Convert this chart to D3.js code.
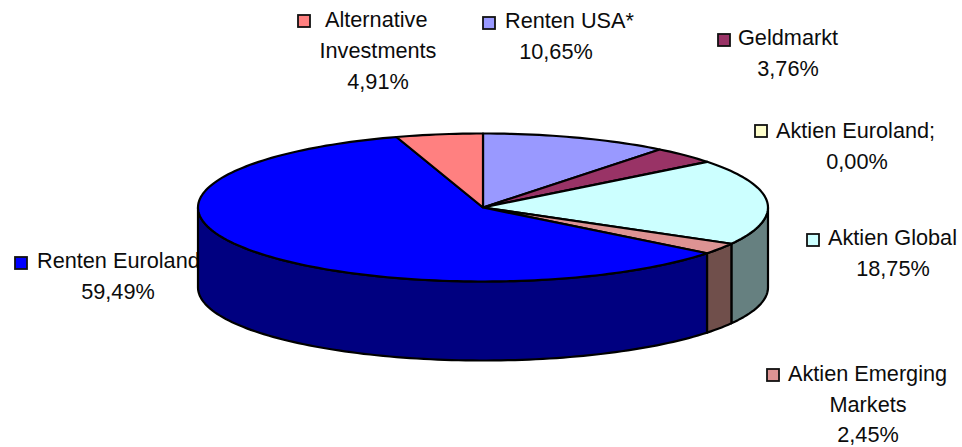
<!DOCTYPE html>
<html>
<head>
<meta charset="utf-8">
<script src="https://cdnjs.cloudflare.com/ajax/libs/d3/7.8.5/d3.min.js"></script>
<style>
html,body{margin:0;padding:0;background:#fff}
svg{display:block}
text{font-family:"Liberation Sans",Arial,sans-serif;font-size:21.7px;fill:#0c0c0c}
</style>
</head>
<body>
<svg id="chart" width="962" height="447"></svg>
<script>
// Portfolio shares, clockwise from twelve o'clock
const categories = ["Renten USA*", "Geldmarkt", "Aktien Euroland;", "Aktien Global", "Aktien Emerging Markets", "Renten Euroland", "Alternative Investments"];
const values = [10.65, 3.76, 0.00, 18.75, 2.45, 59.49, 4.91];
const valueLabels = ["10,65%", "3,76%", "0,00%", "18,75%", "2,45%", "59,49%", "4,91%"];
const topColors = ["#9999ff", "#993366", "#ffffcc", "#ccffff", "#dd9393", "#0000ff", "#ff8080"];
const sideColors = ["#4d4d80", "#4d1a33", "#808066", "#668080", "#704f4b", "#000080", "#804040"];

// Wrapped label text, one entry per line
const labelLines = [["Renten USA*"], ["Geldmarkt"], ["Aktien Euroland;"], ["Aktien Global"], ["Aktien Emerging", "Markets"], ["Renten Euroland"], ["Alternative", "Investments"]];
// Label block layout: swatch left/top, first-line start x and baseline, centre of later lines, line spacing
const swatchX = [482, 717, 754, 806, 766, 14, 297];
const swatchY = [16, 33, 124, 233, 368, 256, 14];
const textX = [505, 738, 776, 828, 788, 37, 325];
const baseY = [28, 45, 138, 245, 381, 268, 27];
const centreX = [556, 788, 857, 893, 868, 118, 378];
const lineSteps = [31, 31, 31, 31, 30.5, 31, 31];

const cx = 483, cy = 207.5, rx = 285, ry = 74, ryBase = 73, depth = 80;
const svg = d3.select("#chart");

// Labels go underneath so the pie body overlaps the long left label
const labels = svg.append("g");
categories.forEach((c, i) => {
  const g = labels.append("g");
  g.append("rect")
    .attr("x", swatchX[i] + 1).attr("y", swatchY[i] + 1)
    .attr("width", 12).attr("height", 12)
    .attr("fill", topColors[i]).attr("stroke", "#111").attr("stroke-width", 1.8);
  labelLines[i].forEach((line, k) => {
    g.append("text")
      .attr("x", k === 0 ? textX[i] : centreX[i])
      .attr("y", baseY[i] + k * lineSteps[i])
      .attr("text-anchor", k === 0 ? "start" : "middle")
      .text(line);
  });
  g.append("text")
    .attr("x", centreX[i])
    .attr("y", baseY[i] + labelLines[i].length * lineSteps[i])
    .attr("text-anchor", "middle")
    .text(valueLabels[i]);
});

// Angles come from d3.pie in the given order; the ellipse projects them to the tilted disc
const arcs = d3.pie().sort(null).value(d => d).startAngle(0).endAngle(2 * Math.PI)(values);
const px = a => cx + rx * Math.sin(a);
const py = a => cy - ry * Math.cos(a);
const pyBase = a => cy + depth - ryBase * Math.cos(a);
const samples = (a0, a1) => d3.range(0, 1.0001, 1 / Math.max(2, Math.ceil((a1 - a0) * 40))).map(t => a0 + (a1 - a0) * t);
const path2 = pts => d3.line()(pts);

const pie = svg.append("g").attr("stroke", "#000").attr("stroke-width", 2.2).attr("stroke-linejoin", "round");

// Outer wall, only the part of each slice facing the viewer
const frontStart = Math.PI / 2, frontEnd = Math.PI * 1.5;
arcs.forEach((d, i) => {
  const a0 = Math.max(d.startAngle, frontStart), a1 = Math.min(d.endAngle, frontEnd);
  if (a1 <= a0) return;
  const arc = samples(a0, a1);
  const pts = arc.map(a => [px(a), py(a)]).concat(arc.slice().reverse().map(a => [px(a), pyBase(a)]));
  pie.append("path").attr("d", path2(pts) + "Z").attr("fill", sideColors[i]);
});

// Top face
arcs.forEach((d, i) => {
  if (d.value === 0) return;
  const pts = [[cx, cy]].concat(samples(d.startAngle, d.endAngle).map(a => [px(a), py(a)]));
  pie.append("path").attr("d", path2(pts) + "Z").attr("fill", topColors[i]);
});
</script>
</body>
</html>
